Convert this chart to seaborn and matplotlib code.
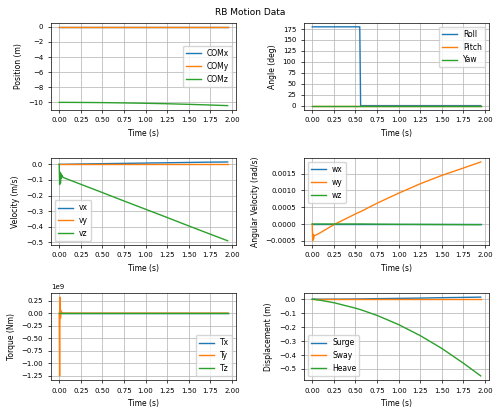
import matplotlib
matplotlib.use("Agg")
import matplotlib.pyplot as plt
import matplotlib.ticker as mt
import seaborn as sns
import pandas as pd

time = [0, 0.005, 0.01, 0.015, 0.02, 0.025, 0.03, 0.04, 0.05, 0.1, 0.25, 0.5, 0.55, 0.56, 0.75, 1.0, 1.25, 1.5, 1.75, 1.95]
zero = [0.0] * len(time)

com_x = zero
com_y = zero
com_z = [-10.0]*10 + [-10.01, -10.03, -10.04, -10.04, -10.07, -10.12, -10.18, -10.26, -10.35, -10.43]

roll = [180.0]*13 + [0.0]*7
pitch = zero
yaw = zero

vx = [0, 0, 0, 0, 0, 0, 0, 0, 0, 0.0005, 0.002, 0.004, 0.0045, 0.0046, 0.006, 0.008, 0.01, 0.012, 0.014, 0.015]
vy = zero
vz = [0, -0.13, -0.05, -0.12, -0.06, -0.09, -0.07, -0.08, -0.085, -0.096, -0.128, -0.181, -0.192, -0.194, -0.235, -0.288, -0.341, -0.395, -0.448, -0.49]

wx = zero
wy = [0, -0.0005, -0.0003, -0.00045, -0.00035, -0.00035, -0.00034, -0.00033, -0.00032, -0.00025, -0.00002, 0.0003, 0.00036, 0.00037, 0.00062, 0.00092, 0.0012, 0.00145, 0.00167, 0.00185]
wz = [0]*14 + [-0.000005, -0.00001, -0.000012, -0.000015, -0.000018, -0.00002]

tx = zero
ty = [0, -1.25e9, 0.32e9, -0.1e9, 0.05e9, 0.02e9, 0.01e9, 0.005e9, 0.003e9] + [0.001e9]*11
tz = zero

surge = vx[:9] + [0.0, 0.0003, 0.0015, 0.002, 0.002, 0.004, 0.006, 0.008, 0.011, 0.013, 0.015]
sway = zero
heave = [0, 0, 0, 0, 0, 0, -0.002, -0.003, -0.004, -0.008, -0.025, -0.064, -0.073, -0.075, -0.116, -0.182, -0.261, -0.353, -0.459, -0.55]

panels = [
    ("Position (m)", [("COMx", com_x), ("COMy", com_y), ("COMz", com_z)], "center right", 2),
    ("Angle (deg)", [("Roll", roll), ("Pitch", pitch), ("Yaw", yaw)], "upper right", 25),
    ("Velocity (m/s)", [("vx", vx), ("vy", vy), ("vz", vz)], "lower left", 0.1),
    ("Angular Velocity (rad/s)", [("wx", wx), ("wy", wy), ("wz", wz)], "upper left", 0.0005),
    ("Torque (Nm)", [("Tx", tx), ("Ty", ty), ("Tz", tz)], "lower right", 0.25e9),
    ("Displacement (m)", [("Surge", surge), ("Sway", sway), ("Heave", heave)], "lower left", 0.1),
]

colors = ["#1f77b4", "#ff7f0e", "#2ca02c"]
fig, axes = plt.subplots(3, 2, figsize=(5, 4.15), dpi=100)
for ax, (ylabel, series, loc, step) in zip(axes.flat, panels):
    for (name, vals), c in zip(series, colors):
        df = pd.DataFrame({"t": time, "v": vals})
        sns.lineplot(data=df, x="t", y="v", ax=ax, color=c, label=name, linewidth=1)
    ax.set_xlabel("Time (s)", fontsize=5.5)
    ax.set_ylabel(ylabel, fontsize=5.5)
    ax.tick_params(labelsize=5, length=2, width=0.5)
    ax.set_xticks([0, 0.25, 0.5, 0.75, 1.0, 1.25, 1.5, 1.75, 2.0])
    ax.yaxis.set_major_locator(mt.MultipleLocator(step))
    ax.grid(True, linewidth=0.5)
    ax.legend(loc=loc, fontsize=5.5)
    ax.yaxis.get_offset_text().set_fontsize(5)
    for s in ax.spines.values():
        s.set_linewidth(0.5)
fig.suptitle("RB Motion Data", fontsize=6.5)
fig.tight_layout(pad=0.5, h_pad=0.8, w_pad=0.8)
fig.savefig("out.png", dpi=100)
